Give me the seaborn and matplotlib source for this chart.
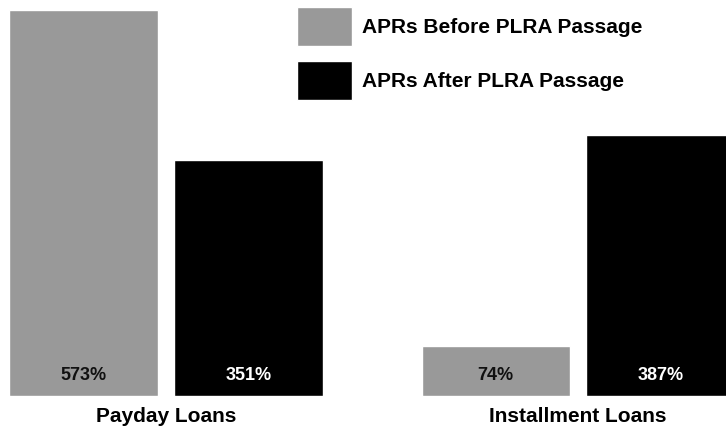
import numpy as np
import pandas as pd
import seaborn as sns
import matplotlib.pyplot as plt

# values
loan_types = ["Payday Loans", "Installment Loans"]
periods = ["APRs Before PLRA Passage", "APRs After PLRA Passage"]
apr_before = [573, 74]
apr_after = [351, 387]

df = pd.DataFrame({
    "loan": loan_types * 2,
    "period": [periods[0]] * 2 + [periods[1]] * 2,
    "apr": apr_before + apr_after,
})

sns.set_style("white")
plt.rcParams["font.family"] = ["Liberation Sans", "DejaVu Sans"]

fig = plt.figure(figsize=(7.26, 4.29), dpi=100)
ax = fig.add_axes([0, 33 / 429, 1, 396 / 429])

colors = {periods[0]: "#999999", periods[1]: "#000000"}
sns.barplot(data=df, x="loan", y="apr", hue="period", order=loan_types,
            hue_order=periods, palette=colors, width=0.8, gap=0.1,
            saturation=1, ax=ax)

ax.set_xlim(-0.403, 1.359)
ax.set_ylim(0, 588)
ax.set_xlabel("")
ax.set_ylabel("")
ax.set_yticks([])
ax.tick_params(axis="x", length=0, pad=8, labelsize=15, labelcolor="black")
for t in ax.get_xticklabels():
    t.set_fontweight("bold")
sns.despine(ax=ax, left=True, bottom=True)

# percentage labels near the bottom of each bar
vals = apr_before + apr_after
txt_colors = ["#111111"] * 2 + ["white"] * 2
for bar, v, c in zip(ax.patches[:4], vals, txt_colors):
    ax.text(bar.get_x() + bar.get_width() / 2, 31, f"{v}%", ha="center",
            va="center", fontsize=13, fontweight="bold", color=c)

leg = ax.legend(loc="upper left", bbox_to_anchor=(297 / 726, 1 - 7 / 429),
                bbox_transform=fig.transFigure, frameon=False, borderpad=0,
                borderaxespad=0, handlelength=2.64, handleheight=2.51,
                handletextpad=0.48, labelspacing=0.72,
                prop={"size": 15, "weight": "bold"})
for t in leg.get_texts():
    t.set_color("black")

fig.savefig("out.png", dpi=100)
